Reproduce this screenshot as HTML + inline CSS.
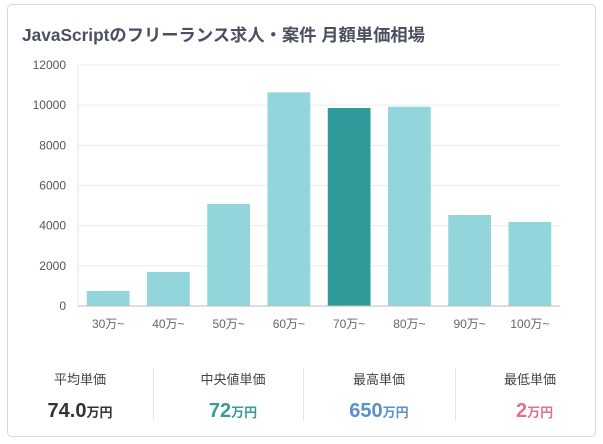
<!DOCTYPE html>
<html><head><meta charset="utf-8"><style>
body{margin:0;width:603px;height:444px;background:#fff;font-family:"Liberation Sans","Noto Sans CJK JP",sans-serif;overflow:hidden}
.card{position:absolute;left:7px;top:4px;width:589px;height:433px;border:1px solid #d4d7dc;border-radius:5px;box-sizing:border-box}
.title{position:absolute;left:22px;top:21px;font-size:17.3px;font-weight:bold;color:#4a5060;white-space:nowrap}
.stat{position:absolute;top:369px;text-align:center}
.lab{font-size:13px;color:#444}
.val{font-size:20px;font-weight:bold;margin-top:12px}
.val small{font-size:13px;font-weight:bold}
.div{position:absolute;top:368px;width:1px;height:52px;background:#e2e4e8}
</style></head><body>
<div class="card"></div>
<div class="title">JavaScriptのフリーランス求人・案件 月額単価相場</div>
<svg id="chart" width="603" height="444" style="position:absolute;left:0;top:0"></svg>
<div class="stat" style="left:40px;width:80px"><div class="lab">平均単価</div><div class="val" style="color:#333">74.0<small>万円</small></div></div>
<div class="div" style="left:153px"></div>
<div class="stat" style="left:188px;width:90px"><div class="lab">中央値単価</div><div class="val" style="color:#3a9a98">72<small>万円</small></div></div>
<div class="div" style="left:303px"></div>
<div class="stat" style="left:339px;width:80px"><div class="lab">最高単価</div><div class="val" style="color:#5b8fc9">650<small>万円</small></div></div>
<div class="div" style="left:455px"></div>
<div class="stat" style="left:490px;width:80px"><div class="lab">最低単価</div><div class="val" style="color:#e07090;padding-left:26px;text-align:left;margin-left:0">2<small>万円</small></div></div>
<script>
const categories=["30万~","40万~","50万~","60万~","70万~","80万~","90万~","100万~"];
const values=[750,1690,5080,10640,9860,9920,4530,4180];
const highlight=[false,false,false,false,true,false,false,false];
const yTicks=[0,2000,4000,6000,8000,10000,12000];
const svg=document.getElementById('chart');
const NS='http://www.w3.org/2000/svg';
const x0=78,x1=560,y0=306,y1=65,yMax=12000;
const slot=(x1-x0)/categories.length;
const y=v=>y0-(v/yMax)*(y0-y1);
function mk(t,a){const e=document.createElementNS(NS,t);for(const k in a)e.setAttribute(k,a[k]);svg.appendChild(e);return e;}
yTicks.forEach(t=>{
  if(t>0){const g=mk('line',{x1:x0,x2:x1,y1:y(t),y2:y(t),stroke:'#ececec'});
  
  }
  const l=mk('text',{x:x0-12,y:y(t)+4,'text-anchor':'end','font-size':12,fill:'#555','font-family':'Liberation Sans, sans-serif'});
  l.textContent=t;
  
  
});
const ax=mk('line',{x1:x0,x2:x0,y1:y1,y2:y0,stroke:'#e4e4e4'});


categories.forEach((c,i)=>{
  const bw=slot*0.71,bx=x0+slot*i+(slot-bw)/2;
  const b=mk('rect',{x:bx,y:y(values[i]),width:bw,height:y0-y(values[i]),fill:highlight[i]?'#2e9a9a':'#92d5da'});
  
  
  const l=mk('text',{x:x0+slot*i+slot/2,y:y0+22,'text-anchor':'middle','font-size':12,fill:'#666','font-family':'Liberation Sans, Noto Sans CJK JP, sans-serif'});
  l.textContent=c;
  
  
});
const xa=mk('line',{x1:x0,x2:x1,y1:y0,y2:y0,stroke:'#bbb'});


</script>
</body></html>
